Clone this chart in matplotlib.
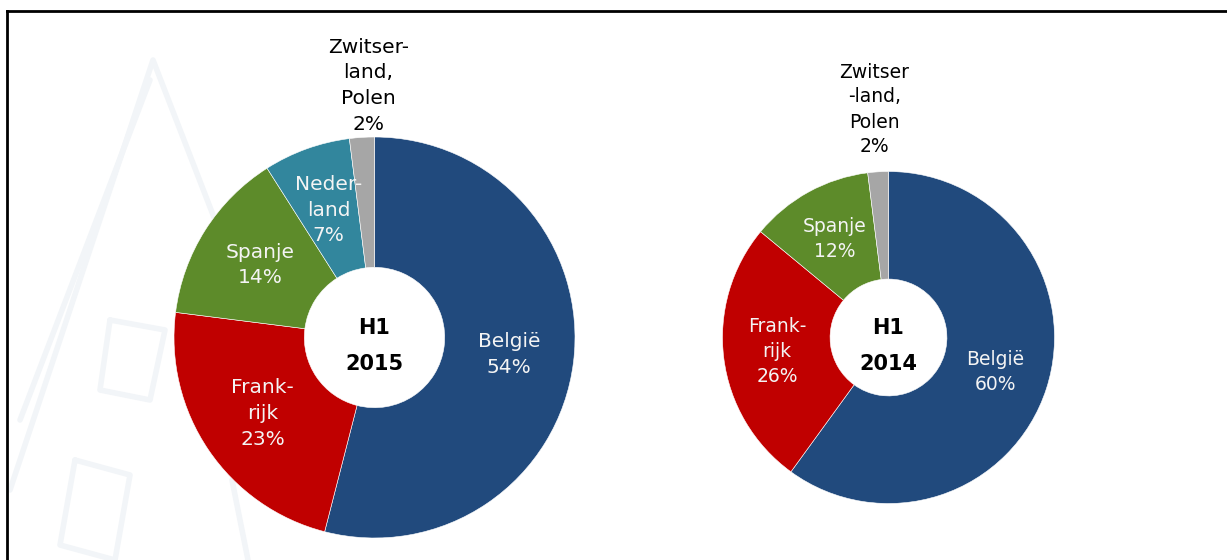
import matplotlib.pyplot as plt
import numpy as np

# data
labels_2015 = ['België\n54%', 'Frank-\nrijk\n23%', 'Spanje\n14%', 'Neder-\nland\n7%', 'Zwitser-\nland,\nPolen\n2%']
values_2015 = [54, 23, 14, 7, 2]
colors_2015 = ['#214A7D', '#C00000', '#5D8B2A', '#32869D', '#A6A6A6']

labels_2014 = ['België\n60%', 'Frank-\nrijk\n26%', 'Spanje\n12%', 'Zwitser\n-land,\nPolen\n2%']
values_2014 = [60, 26, 12, 2]
colors_2014 = ['#214A7D', '#C00000', '#5D8B2A', '#A6A6A6']

W, H = 1227, 560
fig = plt.figure(figsize=(W / 100, H / 100), dpi=100)
ax = fig.add_axes([0, 0, 1, 1])

# faint watermark in the background (image pixel coords, y flipped)
wm = '#F2F5F8'
for xs, ys in [([10, 153, 215], [490, 60, 220]),
               ([20, 150], [420, 80]),
               ([110, 165, 150, 100, 110], [320, 330, 400, 390, 320]),
               ([75, 130, 115, 60, 75], [460, 475, 560, 545, 460]),
               ([232, 248], [480, 560])]:
    ax.plot(xs, [H - y for y in ys], color=wm, lw=4, solid_capstyle='round', zorder=0)


def donut(values, labels, colors, cx, cy, r, hole, fs, lsp, year, out_dx, out_gap):
    center = (cx, H - cy)
    wedges, _ = ax.pie(values, colors=colors, startangle=90, counterclock=False,
                       radius=r, center=center, frame=True,
                       wedgeprops=dict(width=r * (1 - hole), edgecolor='white', linewidth=0.4))
    mid_r = r * (1 + hole) / 2
    for w, lab in zip(wedges[:-1], labels[:-1]):
        ang = np.deg2rad((w.theta1 + w.theta2) / 2)
        ax.text(center[0] + mid_r * np.cos(ang), center[1] + mid_r * np.sin(ang), lab,
                ha='center', va='center', color='#F4F4F4', fontsize=fs,
                linespacing=lsp, zorder=5)
    # smallest slice labelled above the ring
    ax.text(center[0] + out_dx, center[1] + r + out_gap, labels[-1],
            ha='center', va='bottom', color='black', fontsize=fs, linespacing=lsp)
    ax.text(center[0], center[1] + 9, 'H1', ha='center', va='center',
            fontsize=15, fontweight='bold', color='black')
    ax.text(center[0], center[1] - 26, year, ha='center', va='center',
            fontsize=15, fontweight='bold', color='black')


donut(values_2015, labels_2015, colors_2015, 374.5, 337.5, 200.5, 0.35, 14.5, 1.45, '2015', -6, 3)
donut(values_2014, labels_2014, colors_2014, 888.5, 337.5, 166, 0.352, 13.5, 1.4, '2014', -14, 15)

ax.set_xlim(0, W)
ax.set_ylim(0, H)
ax.set_aspect('equal')
ax.axis('off')

# frame: only top and left edges are visible
fig.add_artist(plt.Line2D([6.5 / W, 1], [1 - 10.5 / H, 1 - 10.5 / H], color='black', lw=2))
fig.add_artist(plt.Line2D([6.5 / W, 6.5 / W], [0, 1 - 10.5 / H], color='black', lw=2))

fig.savefig('out.png', dpi=100, facecolor='white')
